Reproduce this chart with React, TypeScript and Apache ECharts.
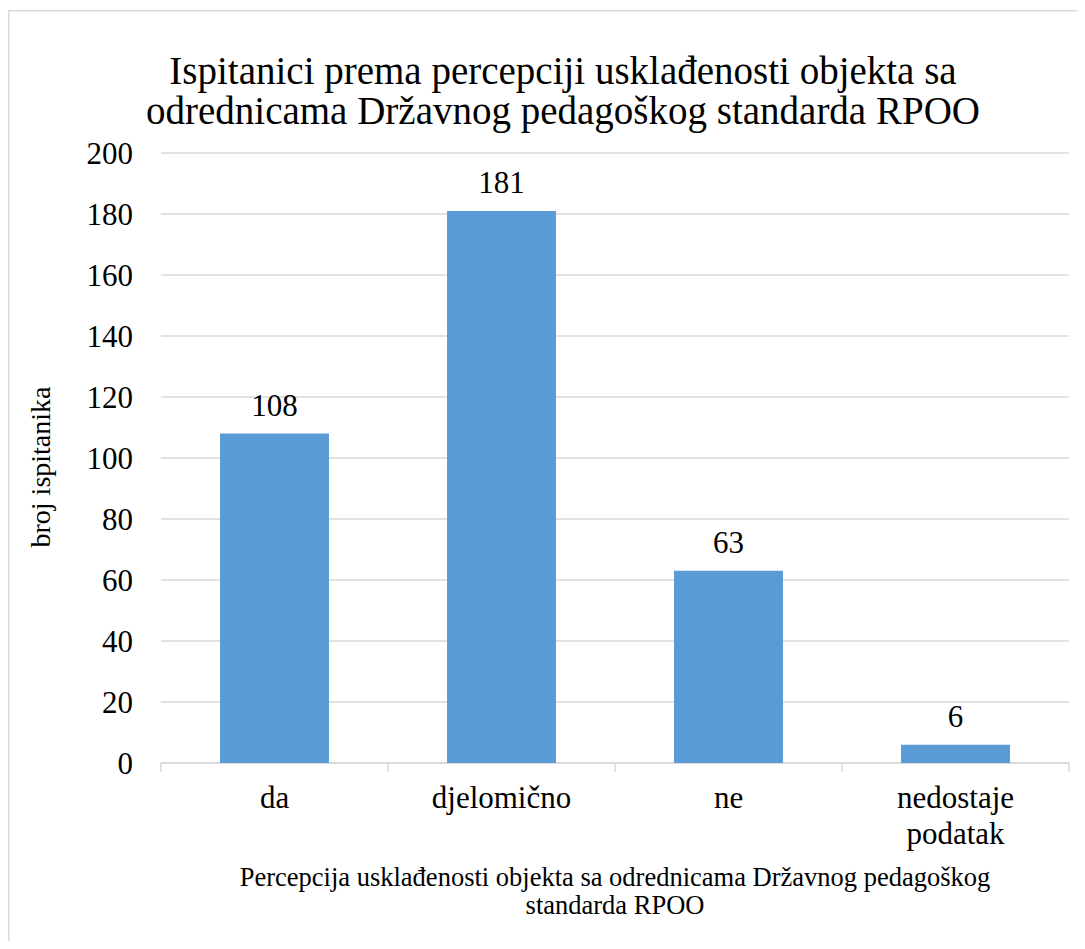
import React, { useEffect, useRef } from "react";
import * as echarts from "echarts";

const categories = ["da", "djelomično", "ne", "nedostaje\npodatak"];
const values = [108, 181, 63, 6];
const yTicks = { min: 0, max: 200, interval: 20 };
const titleText =
  "Ispitanici prema percepciji usklađenosti objekta sa\nodrednicama Državnog pedagoškog standarda RPOO";
const yName = "broj ispitanika";
const xName =
  "Percepcija usklađenosti objekta sa odrednicama Državnog pedagoškog\nstandarda RPOO";

const FONT = "'Liberation Serif', 'Times New Roman', serif";

export default function App() {
  const ref = useRef<HTMLDivElement>(null);
  useEffect(() => {
    if (!ref.current) return;
    const chart = echarts.init(ref.current, undefined, { renderer: "svg" });
    chart.setOption({
      animation: false,
      backgroundColor: "#ffffff",
      textStyle: { fontFamily: FONT },
      title: {
        text: titleText,
        left: 550,
        top: 37,
        textAlign: "center",
        textStyle: {
          fontFamily: FONT,
          fontSize: 39,
          fontWeight: "normal",
          color: "#000",
          lineHeight: 40,
        },
      },
      graphic: [
        {
          type: "rect",
          shape: { x: 0.75, y: 2.75, width: 3000, height: 3000 },
          style: { fill: "none", stroke: "#d9d9d9", lineWidth: 1.5 },
          silent: true,
        },
      ],
      grid: { left: 153, right: 8, top: 145, bottom: 178, containLabel: false },
      xAxis: {
        type: "category",
        data: categories,
        boundaryGap: true,
        axisLine: { show: true, lineStyle: { color: "#d9d9d9", width: 1.5 } },
        axisTick: { show: true, length: 9, lineStyle: { color: "#d9d9d9", width: 1.5 } },
        axisLabel: {
          color: "#000",
          fontFamily: FONT,
          fontSize: 31,
          lineHeight: 36,
          margin: 16,
          interval: 0,
        },
        name: xName,
        nameLocation: "middle",
        nameGap: 100,
        nameTextStyle: {
          color: "#000",
          fontFamily: FONT,
          fontSize: 26.5,
          lineHeight: 28,
          verticalAlign: "top",
        },
      },
      yAxis: {
        type: "value",
        min: yTicks.min,
        max: yTicks.max,
        interval: yTicks.interval,
        axisLine: { show: false },
        axisTick: { show: false },
        splitLine: { lineStyle: { color: "#d9d9d9", width: 1.5 } },
        axisLabel: {
          color: "#000",
          fontFamily: FONT,
          fontSize: 31,
          margin: 28,
        },
        name: yName,
        nameLocation: "middle",
        nameGap: 107,
        nameRotate: 90,
        nameTextStyle: {
          color: "#000",
          fontFamily: FONT,
          fontSize: 28,
          padding: [0, 18, 0, 0],
        },
      },
      series: [
        {
          type: "bar",
          data: values,
          barWidth: "48%",
          itemStyle: { color: "#5b9bd5" },
          label: {
            show: true,
            position: "top",
            distance: 13,
            color: "#000",
            fontFamily: FONT,
            fontSize: 31,
          },
        },
      ],
    });
    return () => chart.dispose();
  }, []);
  return <div ref={ref} style={{ width: 1069, height: 933 }} />;
}
